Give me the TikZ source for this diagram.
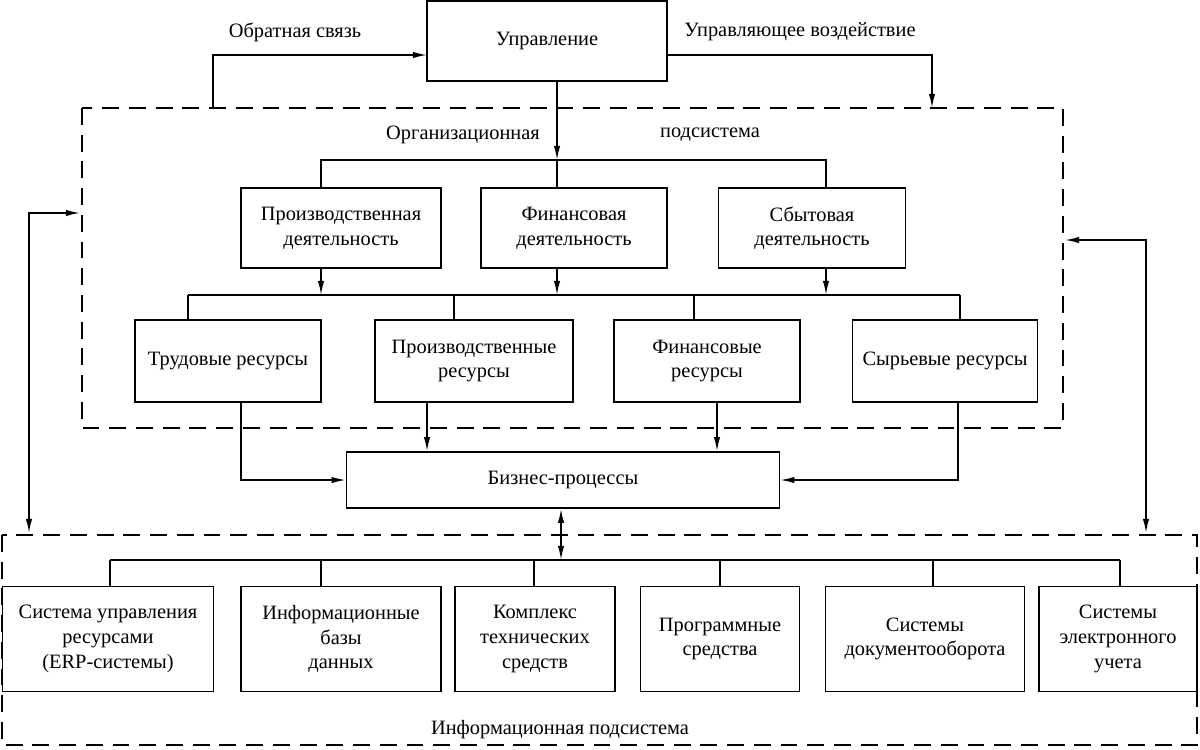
\documentclass[tikz,border=0pt]{standalone}
\usepackage{fontspec}
\setmainfont{Liberation Serif}
\usetikzlibrary{arrows.meta}
\begin{document}
\begin{tikzpicture}[x=0.025cm, y=-0.025cm, font=\fontsize{14.5}{17.5}\selectfont,
    box/.style={draw, line width=1.1pt, align=center, inner sep=0pt},
    ln/.style={line width=1.1pt},
    arr/.style={ln, -{Latex[length=10pt,width=4.5pt]}},
    darr/.style={ln, {Latex[length=10pt,width=4.5pt]}-{Latex[length=10pt,width=4.5pt]}},
    dsh/.style={line width=1.1pt, dash pattern=on 12pt off 7pt}]
    \useasboundingbox (0,0) rectangle (1200,749);

    % Subsystems
    \draw[dsh] (82,108) rectangle (1063,428);
    \draw[dsh] (2,535) rectangle (1197,745);
    \node at (463,135) {Организационная};
    \node at (710,135) {подсистема};
    \node at (560,730) {Информационная подсистема};

    % Boxes
    \node[box, minimum width=240*0.025cm, minimum height=80*0.025cm] (upr) at (547,41) {Управление};
    \node[box, minimum width=200*0.025cm, minimum height=80*0.025cm] (prd) at (341,228) {Производственная\\деятельность};
    \node[box, minimum width=186*0.025cm, minimum height=80*0.025cm] (fin) at (574,228) {Финансовая\\деятельность};
    \node[box, minimum width=187*0.025cm, minimum height=80*0.025cm] (sbt) at (812,228) {Сбытовая\\деятельность};
    \node[box, minimum width=186*0.025cm, minimum height=82*0.025cm] (trd) at (228,361) {Трудовые ресурсы};
    \node[box, minimum width=198*0.025cm, minimum height=82*0.025cm] (prr) at (474,361) {Производственные\\ресурсы};
    \node[box, minimum width=186*0.025cm, minimum height=82*0.025cm] (frs) at (707,361) {Финансовые\\ресурсы};
    \node[box, minimum width=185*0.025cm, minimum height=82*0.025cm] (srv) at (945,361) {Сырьевые ресурсы};
    \node[box, minimum width=433*0.025cm, minimum height=56*0.025cm] (biz) at (563,480) {Бизнес-процессы};
    \node[box, minimum width=211*0.025cm, minimum height=105*0.025cm] (s1) at (108,639) {Система управления\\ресурсами\\(ERP-системы)};
    \node[box, minimum width=200*0.025cm, minimum height=105*0.025cm] (s2) at (341,639) {Информационные\\базы\\данных};
    \node[box, minimum width=160*0.025cm, minimum height=105*0.025cm] (s3) at (535,639) {Комплекс\\технических\\средств};
    \node[box, minimum width=159*0.025cm, minimum height=105*0.025cm] (s4) at (720,639) {Программные\\средства};
    \node[box, minimum width=199*0.025cm, minimum height=105*0.025cm] (s5) at (925,639) {Системы\\документооборота};
    \node[box, minimum width=158*0.025cm, minimum height=105*0.025cm] (s6) at (1118,639) {Системы\\электронного\\учета};

    % Labels
    \node at (295,32) {Обратная связь};
    \node at (800,32) {Управляющее воздействие};

    % Feedback and control
    \coordinate (fb) at (213,108);
    \coordinate (uw) at (427,55);
    \coordinate (ue) at (667,55);
    \coordinate (cv) at (932,108);
    \draw[arr] (fb) |- (uw);
    \draw[arr] (ue) -| (cv);
    \coordinate (bus1) at (557,160);
    \draw[arr] (upr.south -| bus1) -- (bus1);
    \draw[ln] (bus1) -- (fin.north -| bus1);
    \coordinate (b1l) at (321,160);
    \coordinate (b1r) at (826,160);
    \draw[ln] (prd.north -| b1l) -- (b1l) -- (b1r) -- (sbt.north -| b1r);

    % Activities to resources
    \coordinate (b2l) at (188,295);
    \coordinate (b2r) at (960,295);
    \draw[ln] (b2l) -- (b2r);
    \draw[arr] (prd.south -| b1l) -- (b1l |- b2l);
    \draw[arr] (fin.south -| bus1) -- (bus1 |- b2l);
    \draw[arr] (sbt.south -| b1r) -- (b1r |- b2l);
    \foreach \x/\n in {188/trd, 454/prr, 694/frs, 960/srv}
        \draw[ln] (\x,295) -- (\n.north -| \x,295);

    % Resources to business processes
    \coordinate (r1) at (241,402);
    \coordinate (r2) at (427,402);
    \coordinate (r3) at (717,402);
    \coordinate (r4) at (958,402);
    \draw[arr] (r1) |- (biz.west);
    \draw[arr] (r2) -- (r2 |- biz.north);
    \draw[arr] (r3) -- (r3 |- biz.north);
    \draw[arr] (r4) |- (biz.east);

    % Information subsystem
    \coordinate (bus3) at (561,560);
    \draw[darr] (biz.south -| bus3) -- (bus3);
    \draw[ln] (110,560) -- (1120,560);
    \foreach \x/\n in {110/s1, 321/s2, 534/s3, 720/s4, 933/s5, 1120/s6}
        \draw[ln] (\x,560) -- (\n.north -| \x,560);

    % Side links
    \coordinate (lo) at (80,213);
    \coordinate (li) at (29,533);
    \coordinate (ro) at (1065,240);
    \coordinate (ri) at (1146,533);
    \draw[darr] (lo) -| (li);
    \draw[darr] (ro) -| (ri);
\end{tikzpicture}
\end{document}
